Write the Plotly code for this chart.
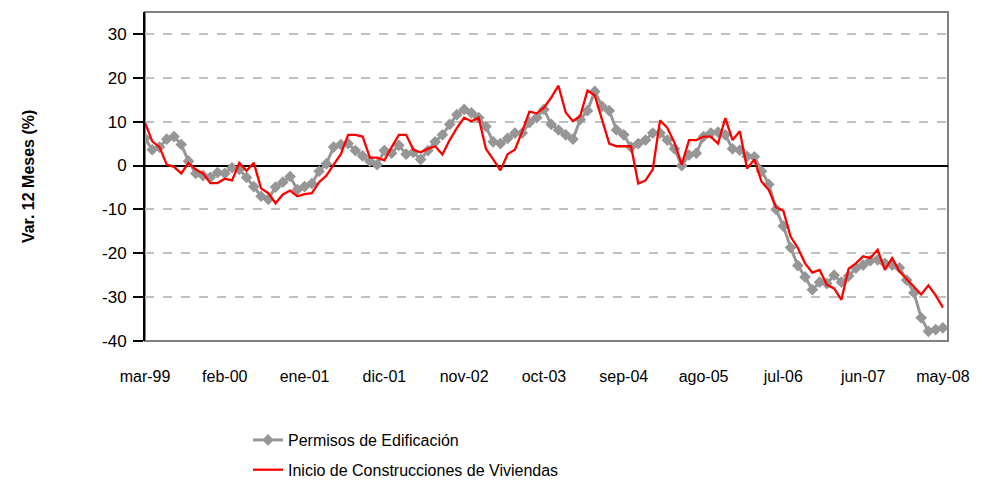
import plotly.graph_objects as go

meses = ["ene", "feb", "mar", "abr", "may", "jun", "jul", "ago", "sep", "oct", "nov", "dic"]
# Monthly categories mar-99 .. may-08
periodos = []
for anio in range(1999, 2009):
    for m, nombre in enumerate(meses):
        if (anio == 1999 and m < 2) or (anio == 2008 and m > 4):
            continue
        periodos.append(f"{nombre}-{str(anio)[2:]}")

tick_labels = ["mar-99", "feb-00", "ene-01", "dic-01", "nov-02", "oct-03",
               "sep-04", "ago-05", "jul-06", "jun-07", "may-08"]
y_ticks = [-40, -30, -20, -10, 0, 10, 20, 30]
y_tick_text = ["-40", "-30", "-20", "-10", "0", "10", "20", "30"]

permisos = [
    6.2, 3.6, 4.2, 6.0, 6.6, 4.8, 1.0, -1.8, -2.3, -2.7,
    -1.6, -1.8, -0.5, -0.9, -2.7, -4.8, -7.0, -7.7, -4.9, -3.8,
    -2.5, -5.5, -4.8, -4.1, -1.3, 0.4, 4.2, 4.8, 5.0, 3.4,
    2.2, 1.0, 0.2, 3.4, 2.8, 4.6, 2.6, 3.0, 1.4, 3.4,
    5.4, 7.0, 9.4, 11.6, 12.8, 12.0, 10.9, 8.9, 5.4, 5.0,
    6.2, 7.4, 7.4, 9.8, 10.9, 12.8, 9.4, 8.1, 7.0, 6.0,
    10.5, 12.5, 16.9, 13.5, 12.5, 8.1, 7.0, 4.2, 5.0, 5.8,
    7.4, 7.4, 5.8, 3.8, 0.0, 2.4, 2.8, 6.6, 7.4, 7.6,
    7.0, 3.8, 3.5, 2.1, 2.0, -1.3, -4.3, -10.0, -13.8, -18.7,
    -22.8, -25.4, -28.3, -26.6, -26.9, -25.0, -26.6, -25.2, -23.4, -22.7,
    -21.7, -21.5, -22.3, -22.7, -23.3, -26.1, -29.0, -34.7, -37.8, -37.4,
    -37.0,
]

inicio = [
    9.8, 5.5, 4.2, 0.2, -0.3, -1.8, 0.6, -0.9, -1.8, -4.0,
    -4.0, -3.0, -3.4, 0.6, -1.2, 0.6, -5.2, -6.3, -8.6, -6.6,
    -5.7, -7.0, -6.5, -6.3, -3.8, -2.3, 0.2, 2.6, 7.0, 7.0,
    6.6, 1.8, 1.8, 1.2, 4.2, 7.0, 7.0, 3.6, 3.0, 3.8,
    4.4, 2.5, 5.8, 8.6, 10.9, 10.1, 10.9, 3.8, 1.4, -1.1,
    2.6, 3.6, 7.8, 12.3, 11.9, 13.2, 15.5, 18.2, 12.1, 10.1,
    11.3, 17.1, 16.0, 10.5, 5.0, 4.4, 4.4, 4.4, -4.1, -3.4,
    -0.9, 10.3, 8.6, 5.2, 0.2, 5.8, 5.8, 6.6, 6.6, 5.0,
    10.8, 5.8, 7.8, -0.7, 1.4, -3.7, -5.6, -9.5, -10.3, -16.2,
    -18.8, -22.3, -24.4, -23.8, -27.2, -28.0, -30.6, -23.5, -22.3, -20.7,
    -21.1, -19.2, -23.8, -21.1, -24.1, -25.9, -27.8, -29.4, -27.3, -29.6,
    -32.4,
]

assert len(periodos) == len(permisos) == len(inicio) == 111

font_fam = "Arial, Liberation Sans, sans-serif"
W, H = 974, 474  # page body adds an 8px margin

fig = go.Figure()
fig.add_trace(go.Scatter(
    x=periodos, y=permisos, name="Permisos de Edificación",
    mode="lines+markers", legendgroup="a",
    line=dict(color="#969696", width=3),
    marker=dict(symbol="diamond", size=9, color="#969696"),
))
fig.add_trace(go.Scatter(
    x=periodos, y=inicio, name="Inicio de Construcciones de Viviendas",
    mode="lines", legendgroup="b",
    line=dict(color="#FF0000", width=2.3),
))

fig.add_shape(type="rect", xref="paper", yref="paper", x0=0, x1=1, y0=0, y1=1,
              line=dict(color="#808080", width=2), layer="below")

fig.update_layout(
    width=W, height=H,
    margin=dict(l=137, r=34, t=4, b=141, autoexpand=False),
    paper_bgcolor="white", plot_bgcolor="white",
    font=dict(family=font_fam, size=16, color="black"),
    showlegend=True,
    legend=dict(xref="container", yref="container",
                x=240 / W, y=1 - 415 / H, xanchor="left", yanchor="top",
                traceorder="grouped", tracegroupgap=6,
                font=dict(size=16), bgcolor="rgba(0,0,0,0)"),
    xaxis=dict(
        type="category", range=[0, 110.7],
        tickvals=tick_labels, ticktext=tick_labels,
        showgrid=False, zeroline=False, showline=False,
        ticks="outside", ticklen=21, tickcolor="rgba(0,0,0,0)",
        tickangle=0, tickfont=dict(size=16),
    ),
    yaxis=dict(
        range=[-40, 35], tickvals=y_ticks, ticktext=y_tick_text,
        showgrid=True, gridcolor="#C0C0C0", griddash="dash", gridwidth=1.5,
        zeroline=True, zerolinecolor="black", zerolinewidth=2,
        showline=True, linecolor="black", linewidth=2,
        ticks="outside", ticklen=10, tickwidth=2, tickcolor="black",
        tickfont=dict(size=17), ticklabelstandoff=3,
    ),
    annotations=[dict(
        text="<b>Var. 12 Meses (%)</b>", textangle=-90,
        xref="paper", yref="paper", x=-0.145, y=0.5,
        xanchor="center", yanchor="middle", showarrow=False,
        font=dict(size=16, family=font_fam, color="black"),
    )],
)

fig.write_html("out.html")
